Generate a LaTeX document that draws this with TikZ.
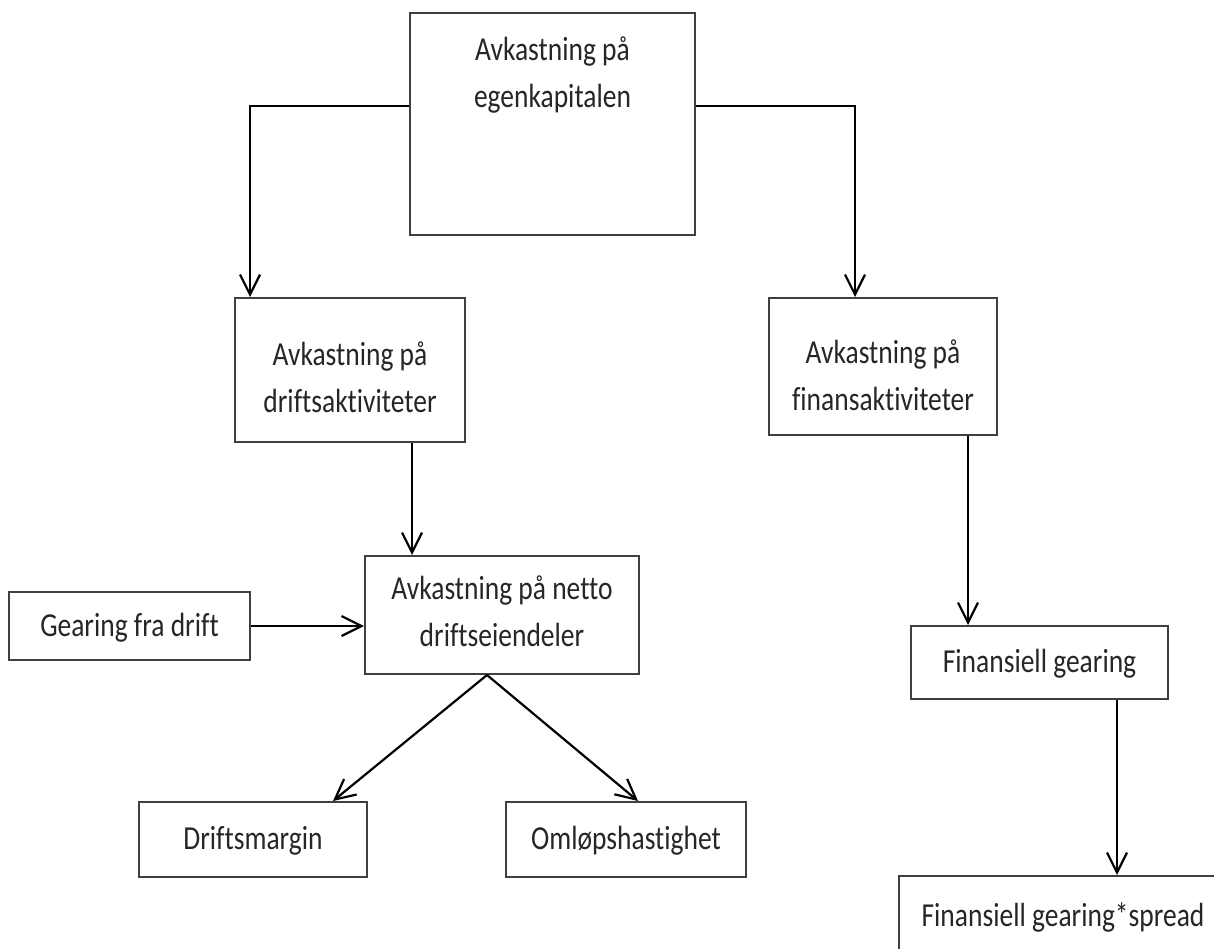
\documentclass[tikz,border=0pt]{standalone}
\usepackage{fontspec}
\setmainfont{Carlito}[RawFeature={-liga;-clig}]
\usepackage{graphicx}
\usetikzlibrary{arrows.meta,calc}
\newcommand{\bxt}[1]{\scalebox{1}[1.22]{\begin{tabular}{@{}c@{}}#1\end{tabular}}}
\tikzset{
  boxnode/.style={draw=black!75, line width=2pt, rectangle, inner sep=0pt, fill=none},
  lbl/.style={inner sep=0pt, font=\fontsize{27.5}{38.5}\selectfont, text=black!85},
  conn/.style={draw=black, line width=2.2pt, -{Straight Barb[length=20pt,width=20pt,line width=2.2pt]}},
}
\begin{document}
\begin{tikzpicture}[x=1pt,y=-1pt]
\path[use as bounding box] (0,0) rectangle (1214,948);
\clip (0,0) rectangle (1214,948);
% boxes
\node[boxnode, minimum width=285pt, minimum height=222pt] (T) at (552.5,124) {};
\node[lbl] (Tt) at (552.5,75) {\bxt{Avkastning på\\egenkapitalen}};
\node[boxnode, minimum width=230pt, minimum height=144pt] (D) at (350,370) {};
\node[lbl] (Dt) at (350,380) {\bxt{Avkastning på\\driftsaktiviteter}};
\node[boxnode, minimum width=228pt, minimum height=137pt] (F) at (883,366.5) {};
\node[lbl] (Ft) at (883,378) {\bxt{Avkastning på\\finansaktiviteter}};
\node[boxnode, minimum width=274pt, minimum height=118pt] (N) at (502,615) {};
\node[lbl] (Nt) at (502,614) {\bxt{Avkastning på netto\\driftseiendeler}};
\node[boxnode, minimum width=241pt, minimum height=68pt] (G) at (129.5,626) {};
\node[lbl] (Gt) at (129.5,627) {\bxt{Gearing fra drift}};
\node[boxnode, minimum width=228pt, minimum height=75pt] (DM) at (253,839.5) {};
\node[lbl] (DMt) at (253,840) {\bxt{Driftsmargin}};
\node[boxnode, minimum width=240pt, minimum height=75pt] (OM) at (626,839.5) {};
\node[lbl] (OMt) at (626,840) {\bxt{Omløpshastighet}};
\node[boxnode, minimum width=257pt, minimum height=73pt] (FG) at (1039.5,662.5) {};
\node[lbl] (FGt) at (1039.5,663) {\bxt{Finansiell gearing}};
\node[boxnode, minimum width=328pt, minimum height=82pt] (FS) at (1063,917) {};
\node[lbl] (FSt) at (1063,917) {\bxt{Finansiell gearing*spread}};
% connectors
\draw[conn] ([yshift=18pt]T.west) -| ([xshift=-100pt]D.north);
\draw[conn] ([yshift=18pt]T.east) -| ([xshift=-28pt]F.north);
\draw[conn] ([xshift=62pt]D.south) -- ([xshift=62pt]D.south |- N.north);
\draw[conn] (G.east) -- (G.east -| N.west);
\draw[conn] ([xshift=-15pt]N.south) -- ([xshift=80pt]DM.north);
\draw[conn] ([xshift=-15pt]N.south) -- ([xshift=12pt]OM.north);
\draw[conn] ([xshift=85pt]F.south) -- ([xshift=85pt]F.south |- FG.north);
\draw[conn] ([xshift=77.5pt]FG.south) -- ([xshift=77.5pt]FG.south |- FS.north);
\end{tikzpicture}
\end{document}
